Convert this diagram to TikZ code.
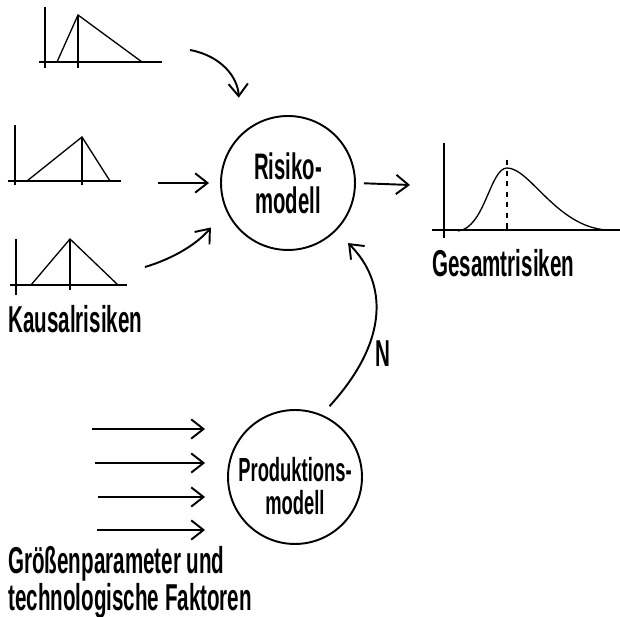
\documentclass[tikz,border=0pt]{standalone}
\usepackage{fontspec}
\newfontfamily\handfont[FakeStretch=0.55]{Liberation Sans}
\usetikzlibrary{arrows.meta, calc}

\tikzset{
	modell/.style={draw, circle, line width=1.1pt, minimum size=2.68cm, inner sep=0pt, align=center},
	flow/.style={line width=1.1pt, -{Straight Barb[length=7pt, width=11pt]}},
	axis/.style={line width=0.75pt},
	caption/.style={inner sep=0pt, font=\handfont\bfseries\fontsize{21.3}{19}\selectfont},
}

\begin{document}
\begin{tikzpicture}[x=0.02cm, y=-0.02cm]
	\useasboundingbox (0,0) rectangle (620,617);

	% Kausalrisiken
	\draw[axis] (45,7) -- (45,68);
	\draw[axis] (39,62) -- (162,62);
	\draw[axis] (57,62) -- (78,15) -- (142,62);
	\draw[axis] (78,15) -- (78,68);

	\draw[axis] (15,125) -- (15,185);
	\draw[axis] (8,181) -- (121,181);
	\draw[axis] (27,181) -- (82,137) -- (110,181);
	\draw[axis] (82,137) -- (82,185);

	\draw[axis] (16,239) -- (16,295);
	\draw[axis] (10,285) -- (127,285);
	\draw[axis] (31,285) -- (70,239) -- (118,285);
	\draw[axis] (70,239) -- (70,290);

	\node[caption, anchor=base west] (kausal) at (8,333) {Kausalrisiken};

	% Modelle
	\node[modell, font=\handfont\bfseries\fontsize{21}{19.5}\selectfont] (risiko) at (288,183) {Risiko-\\modell};
	\node[modell] (prod) at (295,477) {};
	\node[align=center, inner sep=0pt, font=\handfont\bfseries\fontsize{19}{19}\selectfont] (prodtext) at ([yshift=-5pt]prod.center) {Produktions-\\modell};

	\coordinate (k1) at (190,50);
	\coordinate (k2) at (158,183);
	\coordinate (k3) at (145,267);
	\draw[flow] (k1) .. controls (222,56) and (238,78) .. ($(risiko.center)!1.45!(risiko.120)$);
	\draw[flow, shorten >=0.22cm] (k2) -- (k2 -| risiko.west);
	\draw[flow] (k3) .. controls (175,258) and (198,243) .. ($(risiko.center)!1.31!(risiko.210)$);

	% Gesamtrisiken
	\draw[axis] (444,143) -- (444,238);
	\draw[axis] (432,230) -- (620,230);
	\draw[axis] (458,231) .. controls (485,228) and (490,168) .. (507,168) .. controls (530,168) and (556,226) .. (606,230);
	\draw[axis, dashed] (507,160) -- (507,232);
	\coordinate (gesamt) at (410,185);
	\draw[flow, shorten <=0.16cm] (risiko.east) -- (gesamt);
	\node[caption, anchor=base west] (gesamtlabel) at (432,277) {Gesamtrisiken};

	% Produktionsmodell -> Risikomodell
	\draw[flow] ($(prod.center)!1.16!(prod.64)$) .. controls (390,340) and (387,282) .. ($(risiko.center)!1.25!(risiko.-45)$);
	\node[caption, anchor=base west] (nlabel) at (375,367) {N};

	% Eingangsgroessen
	\coordinate (p1) at (92,429);
	\coordinate (p2) at (95,463);
	\coordinate (p3) at (98,497);
	\coordinate (p4) at (97,530);
	\foreach \p in {p1,p2,p3,p4}
		\draw[flow, shorten >=0.44cm] (\p) -- (\p -| prod.west);

	\node[caption, anchor=north west, align=left] (param) at (8,546) {Größenparameter und\\technologische Faktoren};

\end{tikzpicture}
\end{document}
